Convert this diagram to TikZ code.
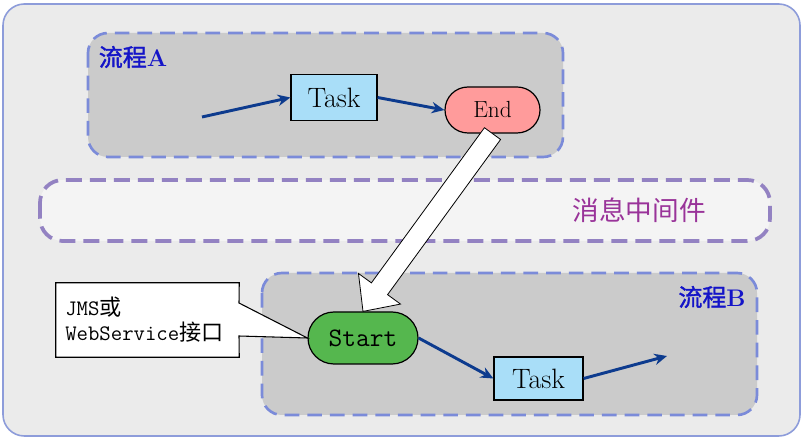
\documentclass[tikz,border=0pt]{standalone}
\usepackage{fontspec}
\newfontfamily\cjk{Noto Sans CJK SC}
\newfontfamily\cjkb{Noto Sans CJK SC}[FakeBold=1.5]
\usetikzlibrary{shapes.misc,arrows.meta,calc}
\definecolor{outerfill}{HTML}{EBEBEB}
\definecolor{outerline}{HTML}{8D9CDA}
\definecolor{procfill}{HTML}{CBCBCB}
\definecolor{procline}{HTML}{7B8BD9}
\definecolor{mqline}{HTML}{9382C2}
\definecolor{mqfill}{HTML}{F4F4F4}
\definecolor{mqtext}{HTML}{993399}
\definecolor{lblblue}{HTML}{1414C8}
\definecolor{taskfill}{HTML}{A9DEF8}
\definecolor{endfill}{HTML}{FF9B9B}
\definecolor{startfill}{HTML}{55B74E}
\definecolor{flowblue}{HTML}{0D3B8E}
\tikzset{
  outerbox/.style={draw=outerline, fill=outerfill, line width=1.2pt, rounded corners=16pt},
  procbox/.style={draw=procline, fill=procfill, line width=2pt, dash pattern=on 11pt off 6pt, rounded corners=15pt},
  mqbox/.style={draw=mqline, fill=mqfill, line width=2.8pt, dash pattern=on 12pt off 6pt, rounded corners=17pt},
  proclabel/.style={text=lblblue, font=\fontsize{18pt}{20pt}\selectfont},
  taskbox/.style={draw=black, fill=taskfill, line width=0.9pt, minimum width=64.5pt, minimum height=34pt, inner sep=0pt, font=\fontsize{21pt}{23pt}\selectfont},
  pill/.style={draw=black, rounded rectangle, line width=0.9pt, inner sep=0pt},
  flow/.style={draw=flowblue, line width=2.2pt, -{Stealth[length=9.5pt,width=8.5pt]}},
  hollow/.style={draw=black, fill=white, line width=0.6pt, line join=miter},
  calloutbox/.style={draw=black, fill=white, line width=0.8pt},
}
\begin{document}
\begin{tikzpicture}[x=0.75pt,y=-0.75pt]
\useasboundingbox (0,0) rectangle (807,441);
% containers
\draw[outerbox] (3,4) rectangle (800,436);
\draw[procbox] (88,33) rectangle (563,157);
\draw[mqbox] (40,180) rectangle (770,241);
\draw[procbox] (262,273) rectangle (757,415);
% labels
\node[proclabel] (lblA) at (133,57) {{\cjkb 流程}{\normalfont\bfseries A}};
\node[proclabel] (lblB) at (712,297) {{\cjkb 流程}{\normalfont\bfseries B}};
\node[text=mqtext, font=\fontsize{20pt}{22pt}\selectfont\cjk] (mq) at (639,210) {消息中间件};
% process A
\node[taskbox] (taskA) at (334,97.5) {Task};
\node[pill, fill=endfill, minimum width=71.25pt, minimum height=34.5pt, font=\fontsize{17.5pt}{19pt}\selectfont] (endA) at (492.5,110) {End};
\coordinate (inA) at (202,117);
\draw[flow] (inA) -- (taskA.west);
\draw[flow] (taskA.east) -- (endA.west);
% process B
\node[pill, fill=startfill, minimum width=82.5pt, minimum height=39pt, font=\fontsize{20pt}{22pt}\selectfont\ttfamily] (startB) at (363,338) {Start};
\node[taskbox, minimum width=66.75pt, minimum height=32.25pt] (taskB) at (538.5,378.5) {Task};
\coordinate (outB) at (667,356);
\draw[flow] (startB.east) -- (taskB.west);
\draw[flow] (taskB.east) -- (outB);
% callout
\node[inner xsep=7.5pt, inner ysep=0pt, minimum width=137.25pt, minimum height=55.5pt, text width=122pt, align=left] (callout) at (147.5,320) {};
\draw[calloutbox] (callout.north west) -- (callout.north east) -- (239,303) -- (startB.west) -- (239,336) -- (callout.south east) -- (callout.south west) -- cycle;
\node[anchor=west, align=left, inner sep=0pt, font=\fontsize{16.6pt}{18.75pt}\selectfont\ttfamily] (calltext) at (65,320) {JMS{\cjk 或}\\WebService{\cjk 接口}};
% hollow arrow from End to Start
\coordinate (T) at (endA.south);
\coordinate (P) at (startB.north);
\coordinate (B) at ($(P)!21pt!(T)$);
\draw[hollow] ($(T)!7.5pt!90:(P)$) -- ($(B)!7.5pt!90:(P)$) -- ($(B)!19.5pt!90:(P)$) -- (P)
  -- ($(B)!19.5pt!-90:(P)$) -- ($(B)!7.5pt!-90:(P)$) -- ($(T)!7.5pt!-90:(P)$) -- cycle;
\end{tikzpicture}
\end{document}
